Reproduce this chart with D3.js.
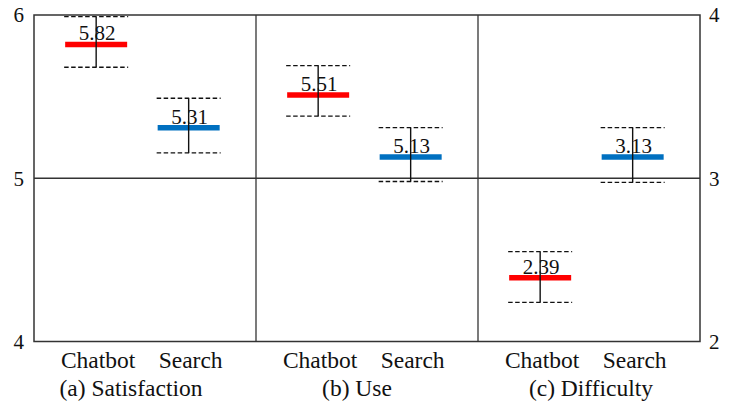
<!DOCTYPE html>
<html>
<head>
<meta charset="utf-8">
<script src="https://cdn.jsdelivr.net/npm/d3@7"></script>
<style>
  html, body { margin: 0; padding: 0; background: #fff; }
</style>
</head>
<body>
<svg id="chart"></svg>
<script>
// data
const categories = ['Chatbot', 'Search'];
const panelTitles = ['(a) Satisfaction', '(b) Use', '(c) Difficulty'];
const means = [[5.82, 5.31], [5.51, 5.13], [2.39, 3.13]];
const lowers = [[5.68, 5.155], [5.38, 4.98], [2.24, 2.975]];
const uppers = [[5.99, 5.49], [5.69, 5.31], [2.55, 3.31]];
const leftTicks = [4, 5, 6];
const rightTicks = [2, 3, 4];
const colors = ['#ff0000', '#0070c0'];

const width = 733, height = 404;
const margin = { top: 15, right: 33, bottom: 62.5, left: 34 };
const plotW = width - margin.left - margin.right;
const panelW = plotW / panelTitles.length;
const titleShift = [-14, -10, 2];
const serif = "'Liberation Serif', 'Times New Roman', serif";

const svg = d3.select('#chart')
  .attr('width', width)
  .attr('height', height)
  .attr('font-family', serif);

const yLeft = d3.scaleLinear().domain([4, 6]).range([height - margin.bottom, margin.top]);
const yRight = d3.scaleLinear().domain([2, 4]).range([height - margin.bottom, margin.top]);
const yFor = i => (i === 2 ? yRight : yLeft);

// middle reference line
svg.append('line')
  .attr('x1', margin.left).attr('x2', width - margin.right)
  .attr('y1', yLeft(5)).attr('y2', yLeft(5))
  .attr('stroke', '#333').attr('stroke-width', 1.3);

// outer frame and panel dividers
svg.append('rect')
  .attr('x', margin.left).attr('y', margin.top)
  .attr('width', plotW).attr('height', height - margin.top - margin.bottom)
  .attr('fill', 'none').attr('stroke', '#333').attr('stroke-width', 1.5);

for (let i = 1; i < panelTitles.length; i++) {
  svg.append('line')
    .attr('x1', margin.left + i * panelW).attr('x2', margin.left + i * panelW)
    .attr('y1', margin.top).attr('y2', height - margin.bottom)
    .attr('stroke', '#333').attr('stroke-width', 1.3);
}

const addText = (sel) => sel
  .attr('font-family', serif)
  .attr('fill', '#111');

// axis tick labels (no tick marks in the reference)
svg.selectAll('.ltick')
  .data(leftTicks)
  .enter().append('text')
  .attr('x', margin.left - 10)
  .attr('y', d => yLeft(d))
  .attr('dy', '0.35em')
  .attr('text-anchor', 'end')
  .attr('font-size', 21)
  .call(addText)
  .text(d => d);

svg.selectAll('.rtick')
  .data(rightTicks)
  .enter().append('text')
  .attr('x', width - margin.right + 9)
  .attr('y', d => yRight(d))
  .attr('dy', '0.35em')
  .attr('text-anchor', 'start')
  .attr('font-size', 21)
  .call(addText)
  .text(d => d);

panelTitles.forEach((title, i) => {
  const x0 = margin.left + i * panelW;
  const x = d3.scalePoint()
    .domain(categories)
    .range([x0, x0 + panelW])
    .padding(0.7)
    .align(0.48);
  const y = yFor(i);

  const g = svg.append('g').attr('class', 'panel');

  const rows = categories.map((c, j) => ({
    cat: c, mean: means[i][j], lo: lowers[i][j], hi: uppers[i][j], color: colors[j]
  }));

  // dashed caps
  ['lo', 'hi'].forEach(k => {
    g.selectAll('.cap-' + k)
      .data(rows)
      .enter().append('line')
      .attr('x1', d => x(d.cat) - 32)
      .attr('x2', d => x(d.cat) + 32)
      .attr('y1', d => y(d[k]))
      .attr('y2', d => y(d[k]))
      .attr('stroke', '#111')
      .attr('stroke-width', 1.3)
      .attr('stroke-dasharray', '4.5,2.5');
  });

  // mean lines
  g.selectAll('.mean')
    .data(rows)
    .enter().append('line')
    .attr('x1', d => x(d.cat) - 31)
    .attr('x2', d => x(d.cat) + 31)
    .attr('y1', d => y(d.mean))
    .attr('y2', d => y(d.mean))
    .attr('stroke', d => d.color)
    .attr('stroke-width', 5.5);

  // value labels
  g.selectAll('.val')
    .data(rows)
    .enter().append('text')
    .attr('x', d => x(d.cat) + 1)
    .attr('y', d => y(d.mean) - 4)
    .attr('text-anchor', 'middle')
    .attr('font-size', 21)
    .call(addText)
    .text(d => d.mean.toFixed(2));

  // whiskers
  g.selectAll('.whisker')
    .data(rows)
    .enter().append('line')
    .attr('x1', d => x(d.cat))
    .attr('x2', d => x(d.cat))
    .attr('y1', d => y(d.lo))
    .attr('y2', d => y(d.hi))
    .attr('stroke', '#111')
    .attr('stroke-width', 1.4);

  // category labels
  g.selectAll('.cat')
    .data(categories)
    .enter().append('text')
    .attr('x', d => x(d) + 2)
    .attr('y', 368)
    .attr('text-anchor', 'middle')
    .attr('font-size', 23.5)
    .call(addText)
    .text(d => d);

  g.append('text')
    .attr('x', x0 + panelW / 2 + titleShift[i])
    .attr('y', 396)
    .attr('text-anchor', 'middle')
    .attr('font-size', 23.5)
    .call(addText)
    .text(title);
});
</script>
</body>
</html>
